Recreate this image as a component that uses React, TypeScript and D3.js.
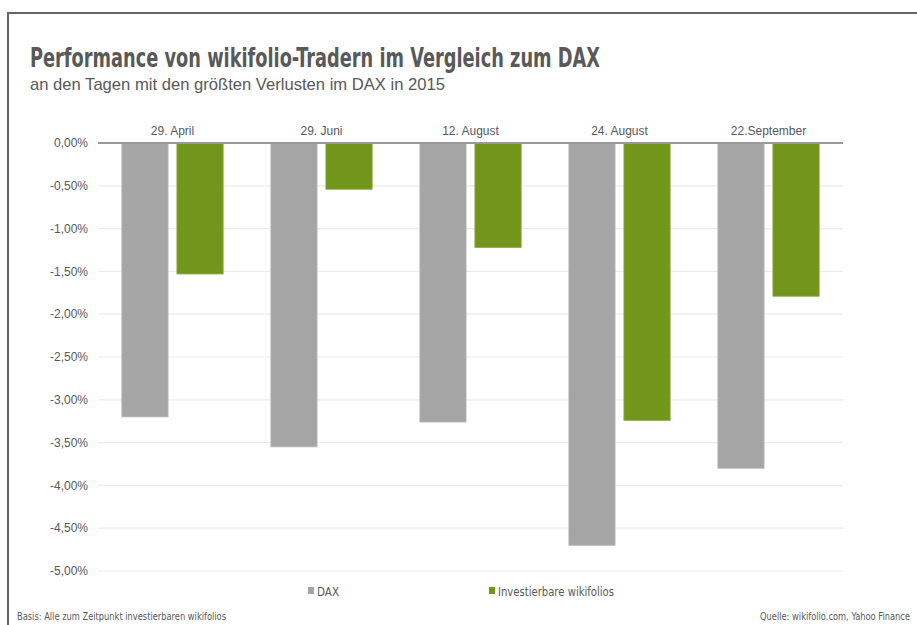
import * as d3 from "d3";
import { useMemo } from "react";

const categories = ["29. April", "29. Juni", "12. August", "24. August", "22.September"];
const seriesNames = ["DAX", "Investierbare wikifolios"];
const daxValues = [-3.2, -3.55, -3.26, -4.7, -3.8];
const wikifolioValues = [-1.53, -0.54, -1.22, -3.24, -1.79];
const yTicks = [0, -0.5, -1, -1.5, -2, -2.5, -3, -3.5, -4, -4.5, -5];

const colors = ["#a5a5a5", "#72961b"];
const textColor = "#595959";
const width = 917;
const height = 625;
const plot = { left: 98, right: 843, top: 143, bottom: 571 };
const narrow = "'Liberation Sans Narrow', 'DejaVu Sans Condensed', sans-serif";

const fmt = (v: number) => v.toFixed(2).replace(".", ",") + "%";

const App = () => {
  const x0 = useMemo(
    () => d3.scaleBand().domain(categories).range([plot.left, plot.right]).paddingInner(0.32).paddingOuter(0.16),
    []
  );
  const x1 = useMemo(
    () => d3.scaleBand().domain(seriesNames).range([0, x0.bandwidth()]).paddingInner(0.16),
    [x0]
  );
  const y = useMemo(
    () => d3.scaleLinear().domain([0, -5]).range([plot.top, plot.bottom]),
    []
  );
  const series = [daxValues, wikifolioValues];

  return (
    <svg
      width={width}
      height={height}
      style={{ position: "absolute", left: 0, top: 0, background: "#fff" }}
      fontFamily="'Liberation Sans', Arial, sans-serif"
    >
      {/* frame */}
      <path d={`M8,${height} V13 H${width}`} fill="none" stroke="#666" strokeWidth={2} />

      <text
        x={30}
        y={67}
        fontSize={26}
        fontWeight="bold"
        fill={textColor}
        fontFamily={narrow}
        textLength={570}
        lengthAdjust="spacingAndGlyphs"
      >
        Performance von wikifolio-Tradern im Vergleich zum DAX
      </text>
      <text x={30} y={90} fontSize={17} fill={textColor} textLength={415} lengthAdjust="spacingAndGlyphs">
        an den Tagen mit den größten Verlusten im DAX in 2015
      </text>

      {/* grid + y labels */}
      {yTicks.map((t) => (
        <g key={t}>
          {t !== 0 && (
            <line x1={plot.left} x2={plot.right} y1={y(t)} y2={y(t)} stroke="#ececec" strokeWidth={1.2} />
          )}
          <text x={88} y={y(t)} dy="0.35em" textAnchor="end" fontSize={12} fill={textColor}>
            {fmt(t)}
          </text>
        </g>
      ))}

      {/* bars */}
      {categories.map((c, i) => (
        <g key={c} transform={`translate(${x0(c)},0)`}>
          {seriesNames.map((s, j) => (
            <rect
              key={s}
              x={x1(s)}
              y={y(0)}
              width={x1.bandwidth()}
              height={y(series[j][i]) - y(0)}
              fill={colors[j]}
              stroke={j === 0 ? "#bdbdbd" : "#8aab3a"}
              strokeWidth={0.8}
            />
          ))}
          <text x={x0.bandwidth() / 2} y={y(0) - 8} textAnchor="middle" fontSize={12} fill={textColor}>
            {c}
          </text>
        </g>
      ))}

      {/* zero line */}
      <line x1={plot.left} x2={plot.right} y1={y(0)} y2={y(0)} stroke="#9a9a9a" strokeWidth={2} />

      {/* legend */}
      {seriesNames.map((s, j) => {
        const lx = j === 0 ? 308 : 489;
        return (
          <g key={s}>
            <rect x={lx} y={587} width={6} height={7} fill={colors[j]} />
            <text
              x={lx + 9}
              y={591}
              dy="0.35em"
              fontSize={13}
              fill={textColor}
              fontFamily={narrow}
              textLength={j === 0 ? 22 : 116}
              lengthAdjust="spacingAndGlyphs"
            >
              {s}
            </text>
          </g>
        );
      })}

      {/* footer */}
      <text
        x={17}
        y={620}
        fontSize={10}
        fill={textColor}
        fontFamily={narrow}
        textLength={209}
        lengthAdjust="spacingAndGlyphs"
      >
        Basis: Alle zum Zeitpunkt investierbaren wikifolios
      </text>
      <text
        x={760}
        y={620}
        fontSize={10}
        fill={textColor}
        fontFamily={narrow}
        textLength={150}
        lengthAdjust="spacingAndGlyphs"
      >
        Quelle: wikifolio.com, Yahoo Finance
      </text>
    </svg>
  );
};

export default App;
